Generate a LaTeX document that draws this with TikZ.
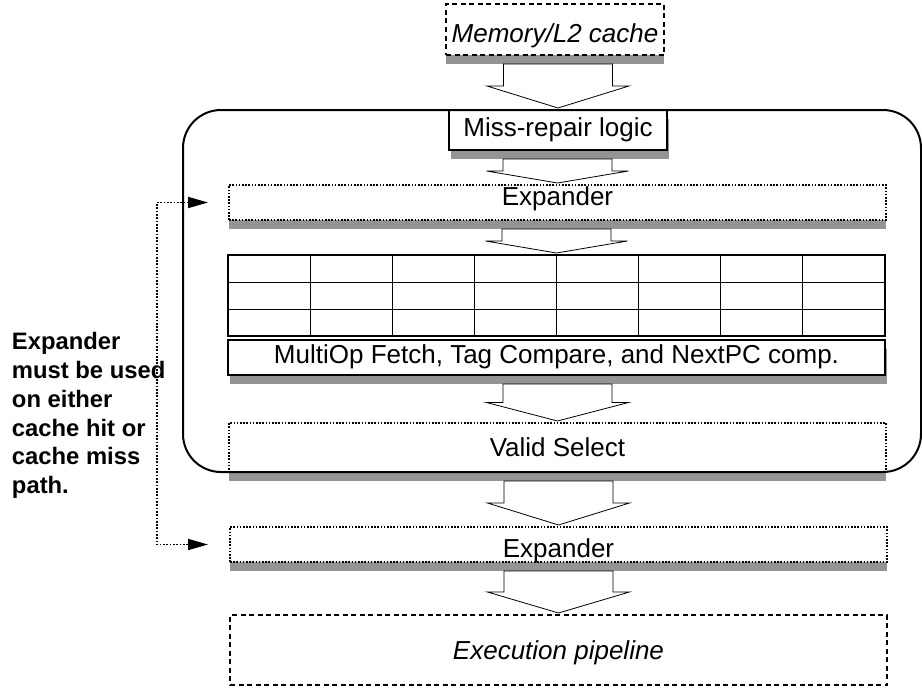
\documentclass[tikz,border=0pt]{standalone}
\usepackage{fontspec}
\setmainfont{Liberation Sans}
\usetikzlibrary{arrows.meta,calc,shadows}

% hollow block arrow from the shadow of one box to the top of the next
\newcommand\hollowarrow[2]{%
  \draw[hollow] let \p1=($(#1.south)+(0,-9)$), \p2=($(#2.north)+(0,2)$),
      \p3=($(\p1)!0.5!(\p2)$) in
    (\x2-54.5pt,\y1) -- (\x2-54.5pt,\y3) -- (\x2-71pt,\y3) -- (\x2,\y2)
    -- (\x2+71pt,\y3) -- (\x2+54.5pt,\y3) -- (\x2+54.5pt,\y1) -- cycle;}

\begin{document}
\begin{tikzpicture}[x=1pt,y=1pt,
  every node/.style={inner sep=0pt, outer sep=0pt},
  lbl/.style={font=\fontsize{26}{31}\selectfont, text height=18.6pt, text depth=0pt},
  boxshadow/.style={general shadow={fill=black!42, shadow xshift=#1, shadow yshift=-9pt}},
  solidbox/.style={draw, line width=2pt, fill=white, lbl, boxshadow=1.5pt},
  dotbox/.style={draw, line width=1.6pt, dash pattern=on 1.6pt off 1.6pt, fill=white, lbl, boxshadow=0pt},
  dashbox/.style={draw, line width=1.6pt, dash pattern=on 5pt off 3.5pt, fill=white, lbl},
  hollow/.style={draw, line width=0.8pt, fill=white, line join=miter},
  link/.style={line width=1.7pt, dash pattern=on 1.7pt off 1.6pt,
    {Triangle[length=20pt,width=11pt]}-{Triangle[length=20pt,width=11pt]}},
]
\useasboundingbox[fill=white] (0,0) rectangle (922,-696);

% stages
\node[dashbox, boxshadow=0pt, minimum width=218, minimum height=51, text height=26.6pt,
      font=\fontsize{26}{31}\selectfont\itshape] (mem) at (555,-29.5) {Memory/L2 cache};
\node[solidbox, minimum width=218, minimum height=40, text depth=5pt] (miss) at (558,-130) {Miss-repair logic};
\node[dotbox, minimum width=657, minimum height=35, text depth=12pt] (exp1) at (557.5,-202.5) {Expander};

% cache array
\node[draw, line width=2.2pt, fill=white, minimum width=657, minimum height=81] (tags) at (556.5,-295.5) {};
\foreach \i in {1,...,7}
  \draw[line width=1pt] ($(tags.north west)!{\i/8}!(tags.north east)$) -- ($(tags.south west)!{\i/8}!(tags.south east)$);
\foreach \j in {1,2}
  \draw[line width=1pt] ($(tags.north west)!{\j/3}!(tags.south west)$) -- ($(tags.north east)!{\j/3}!(tags.south east)$);

\node[solidbox, line width=2.2pt, minimum width=657, minimum height=35, text depth=7pt] (multi) at (556.5,-357.5)
  {MultiOp Fetch, Tag Compare, and NextPC comp.};
\node[dotbox, minimum width=657, minimum height=49] (valid) at (557.5,-447.5) {Valid Select};
\node[dotbox, minimum width=657, minimum height=35, text height=26.6pt] (exp2) at (558.5,-544.5) {Expander};
\node[dashbox, minimum width=657, minimum height=70, font=\fontsize{26}{31}\selectfont\itshape] (exec) at (558.5,-650)
  {Execution pipeline};

% flow between stages
\hollowarrow{mem}{miss}
\hollowarrow{miss}{exp1}
\hollowarrow{exp1}{tags}
\hollowarrow{multi}{valid}
\hollowarrow{valid}{exp2}
\hollowarrow{exp2}{exec}

% fetch unit outline
\node[draw, line width=2pt, rounded corners=38pt, minimum width=738, minimum height=362] (core) at (552,-291) {};

% note and its dotted link to both expanders
\node[font=\fontsize{23.8}{28.8}\selectfont\bfseries, align=left, anchor=north west] (note) at (12,-332.5)
  {Expander\\must be used\\on either\\cache hit or\\cache miss\\path.};
\coordinate (inA) at ($(exp1.west)+(-21,0)$);
\coordinate (inB) at ($(exp2.west)+(-22,0)$);
\draw[link] (inA) -- ++(-51,0) |- (inB);
\end{tikzpicture}
\end{document}
